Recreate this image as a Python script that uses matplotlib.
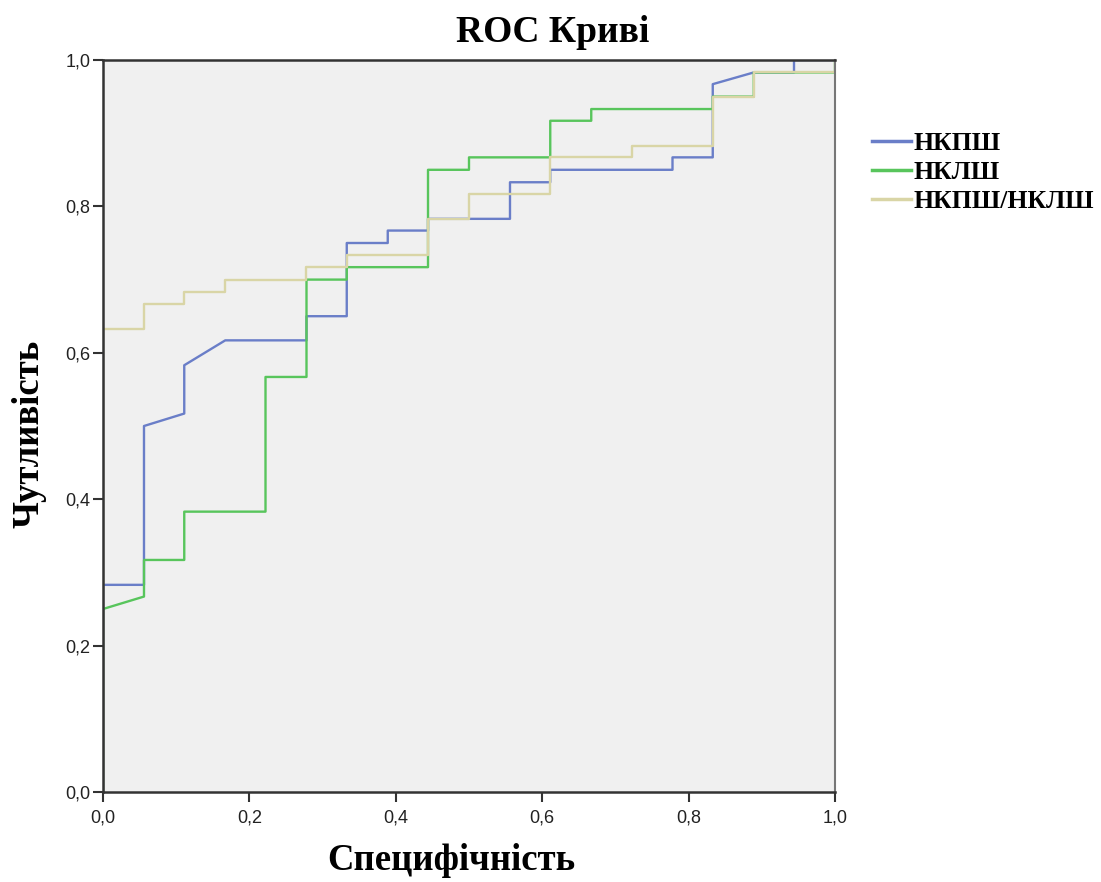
import matplotlib
matplotlib.use('Agg')
import matplotlib.pyplot as plt
from matplotlib.ticker import FuncFormatter

# ROC step curves (x = 1 - specificity grid of 1/18, y = sensitivity grid of 1/60)
nkpsh_x = [0, 0, 0.056, 0.056, 0.111, 0.111, 0.167, 0.278, 0.278, 0.333, 0.333, 0.389, 0.389,
           0.444, 0.444, 0.556, 0.556, 0.611, 0.611, 0.778, 0.778, 0.833, 0.833, 0.889, 0.944,
           0.944, 1.0]
nkpsh_y = [0, 0.283, 0.283, 0.5, 0.517, 0.583, 0.617, 0.617, 0.65, 0.65, 0.75, 0.75, 0.767,
           0.767, 0.783, 0.783, 0.833, 0.833, 0.85, 0.85, 0.867, 0.867, 0.967, 0.983, 0.983,
           1.0, 1.0]

nklsh_x = [0, 0, 0.056, 0.056, 0.111, 0.111, 0.222, 0.222, 0.278, 0.278, 0.333, 0.333, 0.444,
           0.444, 0.5, 0.5, 0.611, 0.611, 0.667, 0.667, 0.833, 0.833, 0.889, 0.889, 1.0, 1.0]
nklsh_y = [0, 0.25, 0.267, 0.317, 0.317, 0.383, 0.383, 0.567, 0.567, 0.7, 0.7, 0.717, 0.717,
           0.85, 0.85, 0.867, 0.867, 0.917, 0.917, 0.933, 0.933, 0.95, 0.95, 0.983, 0.983, 1.0]

ratio_x = [0, 0, 0.056, 0.056, 0.111, 0.111, 0.167, 0.167, 0.278, 0.278, 0.333, 0.333, 0.444,
           0.444, 0.5, 0.5, 0.611, 0.611, 0.722, 0.722, 0.833, 0.833, 0.889, 0.889, 1.0, 1.0]
ratio_y = [0, 0.633, 0.633, 0.667, 0.667, 0.683, 0.683, 0.7, 0.7, 0.717, 0.717, 0.733, 0.733,
           0.783, 0.783, 0.817, 0.817, 0.867, 0.867, 0.883, 0.883, 0.95, 0.95, 0.983, 0.983, 1.0]

ticks = [0.0, 0.2, 0.4, 0.6, 0.8, 1.0]

serif = 'Liberation Serif'
sans = 'Liberation Sans'

fig = plt.figure(figsize=(11.01, 8.82), dpi=100)
ax = fig.add_axes([103 / 1101, 1 - 792 / 882, 732 / 1101, 732 / 882])
ax.set_facecolor('#f0f0f0')

ax.plot(nkpsh_x, nkpsh_y, color='#6a7ec8', lw=1.7, label='НКПШ')
ax.plot(nklsh_x, nklsh_y, color='#58c55c', lw=1.7, label='НКЛШ')
ax.plot(ratio_x, ratio_y, color='#d9d5a6', lw=1.7, label='НКПШ/НКЛШ')

ax.set_xlim(0, 1)
ax.set_ylim(0, 1)
ax.set_xticks(ticks)
ax.set_yticks(ticks)
fmt = FuncFormatter(lambda v, p: f'{v:.1f}'.replace('.', ','))
ax.xaxis.set_major_formatter(fmt)
ax.yaxis.set_major_formatter(fmt)
ax.tick_params(direction='out', length=7.5, width=1.5, color='#333333', labelsize=13,
               labelcolor='#222222')
ax.tick_params(axis='x', pad=5)
ax.tick_params(axis='y', pad=1.5)
for lab in ax.get_xticklabels() + ax.get_yticklabels():
    lab.set_family(sans)

for side in ['left', 'bottom', 'top']:
    ax.spines[side].set_color('#333333')
    ax.spines[side].set_linewidth(1.8)
ax.spines['right'].set_color('#777777')
ax.spines['right'].set_linewidth(1.5)

fig.text(553 / 1101, 1 - 33 / 882, 'ROC Криві', ha='center', va='center',
         family=serif, weight='bold', fontsize=27)
fig.text(451 / 1101, 1 - 860 / 882, 'Специфічність', ha='center', va='center',
         family=serif, weight='bold', fontsize=26.5)
fig.text(29 / 1101, 1 - 434 / 882, 'Чутливість', ha='center', va='center', rotation=90,
         family=serif, weight='bold', fontsize=26.5)

leg = ax.legend(loc='upper left', bbox_to_anchor=(862 / 1101, 1 - 122 / 882),
                bbox_transform=fig.transFigure, frameon=False, handlelength=1.5,
                handletextpad=0.1, labelspacing=0.22, borderaxespad=0,
                prop={'family': serif, 'weight': 'bold', 'size': 18.5})
for line in leg.get_lines():
    line.set_linewidth(2.5)

fig.savefig('out.png', dpi=100)
